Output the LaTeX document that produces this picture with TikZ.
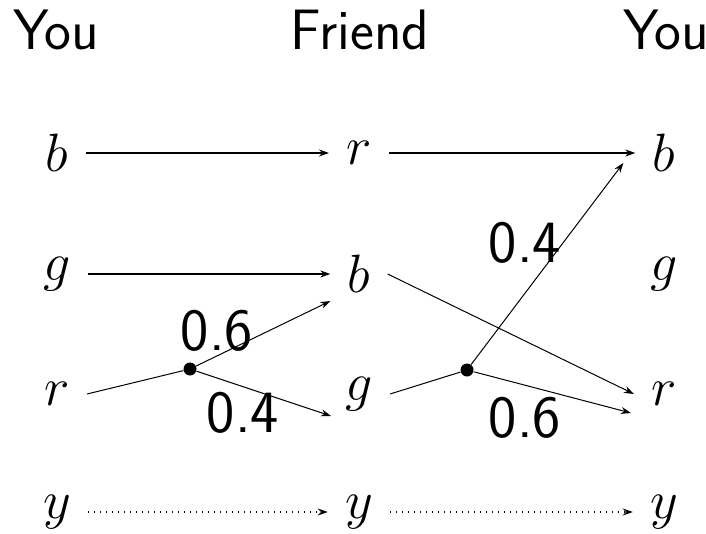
\RequirePackage{fix-cm}
\documentclass[tikz,border=0pt]{standalone}
\usepackage{amsmath, amssymb}
\usetikzlibrary{arrows.meta}

\begin{document}
\begin{tikzpicture}[x=0.5pt, y=-0.5pt,
  letter/.style={inner xsep=8.5pt, inner ysep=0pt, font=\fontsize{27}{30}\selectfont},
  title/.style={anchor=base, font=\fontsize{28.5}{32}\selectfont\sffamily},
  prob/.style={font=\fontsize{30}{34}\selectfont\sffamily},
  junction/.style={circle, fill, inner sep=0pt, minimum size=6.5pt},
  move/.style={line width=1pt, -{Stealth[length=5pt, width=3.5pt]}},
  feed/.style={line width=0.5pt},
  split/.style={line width=0.5pt, -{Stealth[length=5pt, width=3.5pt]}},
  never/.style={line width=0.6pt, dash pattern=on 0.6pt off 2.4pt, -{Stealth[length=5pt, width=3.5pt]}}]
  \useasboundingbox (0, 0) rectangle (706, 534);

  % column titles
  \node[title] (tyou) at (56, 50) {You};
  \node[title] (tfriend) at (360, 50) {Friend};
  \node[title] (tyou2) at (666, 50) {You};

  % left column
  \node[letter] (lb) at (57, 153) {$b$};
  \node[letter] (lg) at (57, 274) {$g$};
  \node[letter] (lr) at (57, 394) {$r$};
  \node[letter] (ly) at (57, 512) {$y$};
  % middle column
  \node[letter] (mr) at (359, 153) {$r$};
  \node[letter] (mb) at (359, 274) {$b$};
  \node[letter] (mg) at (359, 394) {$g$};
  \node[letter] (my) at (359, 512) {$y$};
  % right column
  \node[letter] (rb) at (664, 153) {$b$};
  \node[letter] (rg) at (664, 274) {$g$};
  \node[letter] (rr) at (664, 394) {$r$};
  \node[letter] (ry) at (664, 512) {$y$};

  % branch points
  \node[junction] (d1) at (190, 369) {};
  \node[junction] (d2) at (467, 370) {};

  % probabilities
  \node[prob] (pa) at (217, 331) {0.6};
  \node[prob] (pb) at (243, 413) {0.4};
  \node[prob] (pc) at (525, 243) {0.4};
  \node[prob] (pd) at (525, 418) {0.6};

  \draw[move] (lb) -- (mr);
  \draw[move] (lg) -- (mb);
  \draw[move] (mr) -- (rb);
  \draw[feed] (lr.east) -- (d1);
  \draw[split] (d1) -- ([shift={(0, 27)}]mb.west);
  \draw[split] (d1) -- ([shift={(3, 22)}]mg.west);
  \draw[split] (mb.east) -- (rr.west);
  \draw[feed] (mg.east) -- (d2);
  \draw[split] (d2) -- ([shift={(-12, 10)}]rb.west);
  \draw[split] (d2) -- ([shift={(-3, 19)}]rr.west);
  \draw[never] (ly) -- (my);
  \draw[never] (my) -- (ry);
\end{tikzpicture}
\end{document}
